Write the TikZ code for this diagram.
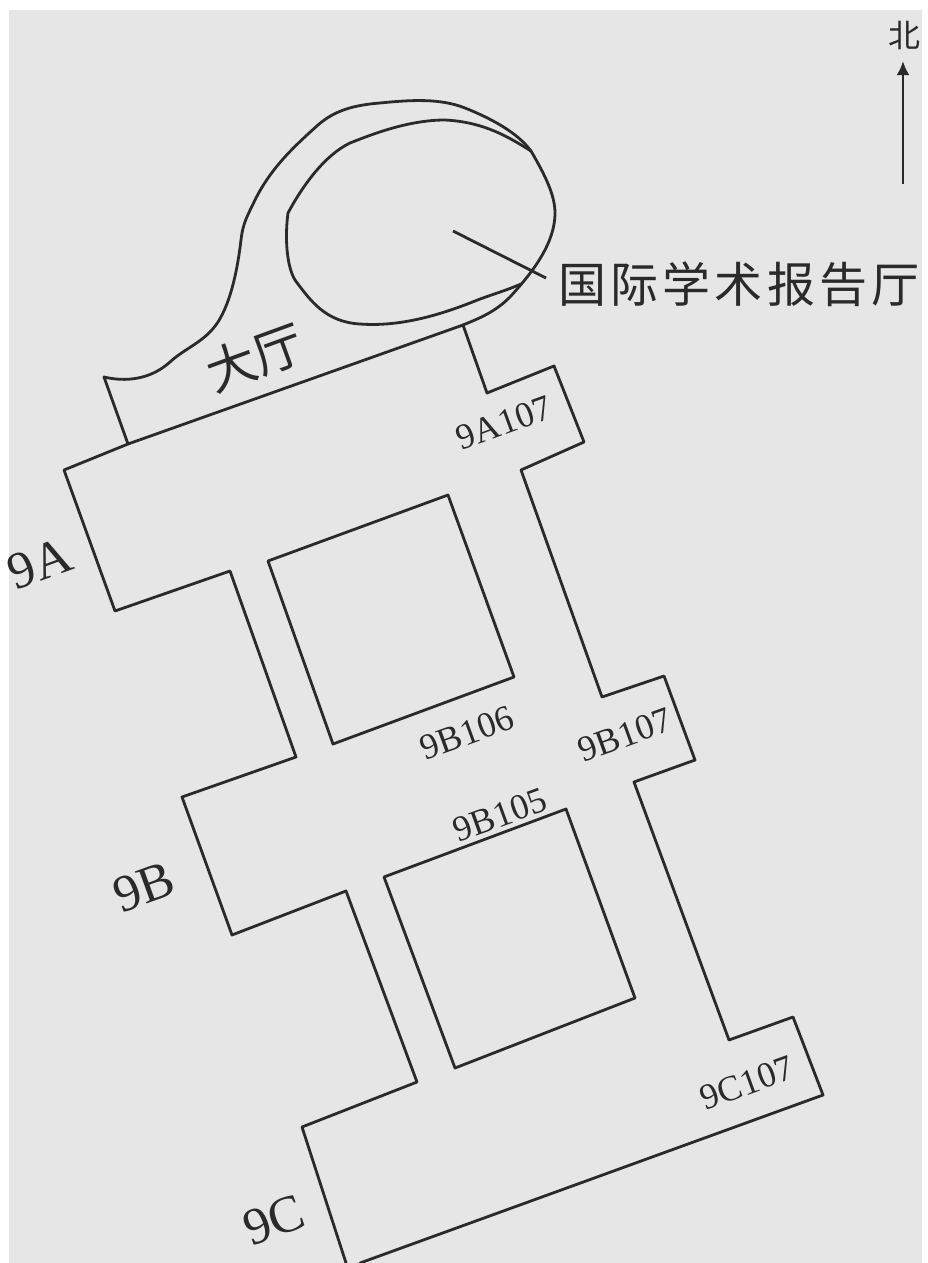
\documentclass[tikz,border=0pt]{standalone}
\usepackage{fontspec}
\usetikzlibrary{arrows.meta}
\setmainfont{Liberation Serif}
\newfontfamily\cjk{Noto Sans CJK SC}
\definecolor{paper}{HTML}{E6E6E6}
\definecolor{ink}{HTML}{2A2A2A}
\tikzset{
  wall/.style={draw=ink,line width=2.8pt,line join=round,line cap=round},
  roomlabel/.style={text=ink,font=\fontsize{36}{38}\selectfont,inner sep=0pt,rotate=20},
  wing/.style={text=ink,font=\fontsize{52}{54}\selectfont,inner sep=0pt,rotate=20},
  cjklabel/.style={text=ink,font=\cjk\fontsize{48}{50}\selectfont,inner sep=0pt}
}
\begin{document}
\begin{tikzpicture}[x=1pt,y=-1pt]
\useasboundingbox (0,0) rectangle (927,1263);
\fill[white] (0,0) rectangle (927,1263);
\fill[paper] (9,10) rectangle (922,1263);
\begin{scope}
\clip (9,10) rectangle (922,1263);
% building outline
\draw[wall] (463,325) -- (487,393) -- (554,366) -- (584,442) -- (521,470) -- (602,697) -- (664,676) -- (695,760) -- (634,782) -- (729,1040) -- (793,1017) -- (823,1095) -- (360,1263);
\draw[wall] (347,1266) -- (302,1127) -- (417,1082) -- (346,891) -- (232,935) -- (182,797) -- (296,757) -- (230,571) -- (115,611) -- (64,470) -- (128,444) -- (463,325);
\draw[wall] (128,444) -- (104,377);
% courtyards
\draw[wall] (268,561) -- (448,495) -- (514,677) -- (333,744) -- cycle;
\draw[wall] (384,877) -- (566,809) -- (635,998) -- (455,1068) -- cycle;
% hall curve
\draw[wall] (104,377) .. controls (125,382) and (150,380) .. (170,362)
  .. controls (185,348) and (205,342) .. (218,322)
  .. controls (232,300) and (238,265) .. (241,240)
  .. controls (243,222) and (248,215) .. (255,200)
  .. controls (270,170) and (290,150) .. (318,125)
  .. controls (335,110) and (355,105) .. (380,103)
  .. controls (410,100) and (440,98) .. (465,108)
  .. controls (490,118) and (517,132) .. (531,151)
  .. controls (545,175) and (555,195) .. (555,213)
  .. controls (555,245) and (530,275) .. (510,297)
  .. controls (495,312) and (480,318) .. (463,325);
% auditorium curve
\draw[wall] (531,151) .. controls (510,138) and (485,122) .. (445,120)
  .. controls (410,120) and (375,133) .. (350,143)
  .. controls (325,155) and (303,185) .. (288,213)
  .. controls (285,235) and (286,265) .. (295,280)
  .. controls (310,300) and (325,322) .. (360,324)
  .. controls (400,327) and (440,315) .. (475,301)
  .. controls (490,295) and (505,291) .. (521,284);
\end{scope}
% pointer
\coordinate (pa) at (453,231);
\coordinate (pb) at (546,278);
\draw[draw=ink,line width=2.8pt] (pa) -- (pb);
% north arrow
\coordinate (na) at (903,184);
\coordinate (nb) at (903,61);
\draw[draw=ink,line width=2.8pt,-{Latex[length=14pt,width=13pt]}] (na) -- (nb);
\node[cjklabel,font=\cjk\fontsize{32}{34}\selectfont] (north) at (904,35) {北};
% labels
\node[cjklabel] (hall2) at (739,284) {\addfontfeatures{LetterSpace=9}国际学术报告厅};
\node[cjklabel,rotate=20,font=\cjk\fontsize{50}{52}\selectfont] (hall) at (255,358) {大厅};
\node[wing] (a) at (40,564) {9A};
\node[wing] (b) at (144,887) {9B};
\node[wing] (c) at (274,1220) {9C};
\node[roomlabel] (r1) at (504,423) {9A107};
\node[roomlabel] (r2) at (467,733) {9B106};
\node[roomlabel] (r3) at (625,735) {9B107};
\node[roomlabel] (r4) at (500,815) {9B105};
\node[roomlabel] (r5) at (747,1083) {9C107};
\end{tikzpicture}
\end{document}
